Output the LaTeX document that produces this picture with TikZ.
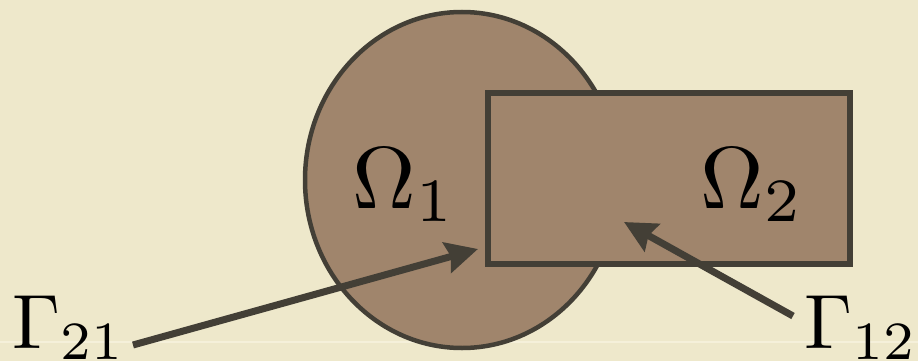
\documentclass[tikz,border=0pt]{standalone}
\usepackage{amsmath, amssymb}
\usepackage{tikz}
\usetikzlibrary{
  arrows.meta,%
  shapes.geometric,%
  positioning
}
\definecolor{parchment}{RGB}{238,232,203}
\definecolor{parchline}{RGB}{245,240,218}
\definecolor{domfill}{RGB}{160,133,108}
\definecolor{domdraw}{RGB}{67,63,54}
\tikzset{>={Stealth[length=32pt, width=31pt, inset=4pt]}}
\tikzset{subdom/.style={draw=domdraw, fill=domfill, inner sep=0pt, outer sep=0pt}}
% labels are set at 10pt and blown up
\tikzset{omegalabel/.style={inner sep=0pt, anchor=base west, scale=8.8}}
\tikzset{gammalabel/.style={inner sep=0pt, anchor=base west, scale=7.7}}
\tikzset{gammaarrow/.style={->, draw=domdraw, line width=7pt}}

\begin{document}
\begin{tikzpicture}[x=1pt, y=-1pt]
  % slide background
  \fill[parchment] (0,0) rectangle (918,361);%
  \useasboundingbox (0,0) rectangle (918,361);%
  \draw[parchline, line width=2.5pt] (0,342) -- (918,342);%
  % the two subdomains
  \node[subdom, ellipse, line width=4.5pt, minimum width=314pt, minimum height=336pt]
    (dom1) at (462,180) {};%
  \node[subdom, rectangle, line width=6pt, minimum width=362pt, minimum height=171pt]
    (dom2) at (669,178.5) {};%
  \node[omegalabel] (om1) at (351,208) {$\Omega_1$};%
  \node[omegalabel] (om2) at (699,208) {$\Omega_2$};%
  % interfaces
  \node[gammalabel] (g21) at (11,348) {$\Gamma_{21}$};%
  \node[gammalabel] (g12) at (803,348) {$\Gamma_{12}$};%
  \coordinate (g21from) at (133,345);%
  \coordinate (g21to) at (478,249);%
  \coordinate (g12from) at (793,316);%
  \coordinate (g12to) at (624,222);%
  \draw[gammaarrow] (g21from) -- (g21to);%
  \draw[gammaarrow] (g12from) -- (g12to);%
\end{tikzpicture}
\end{document}
